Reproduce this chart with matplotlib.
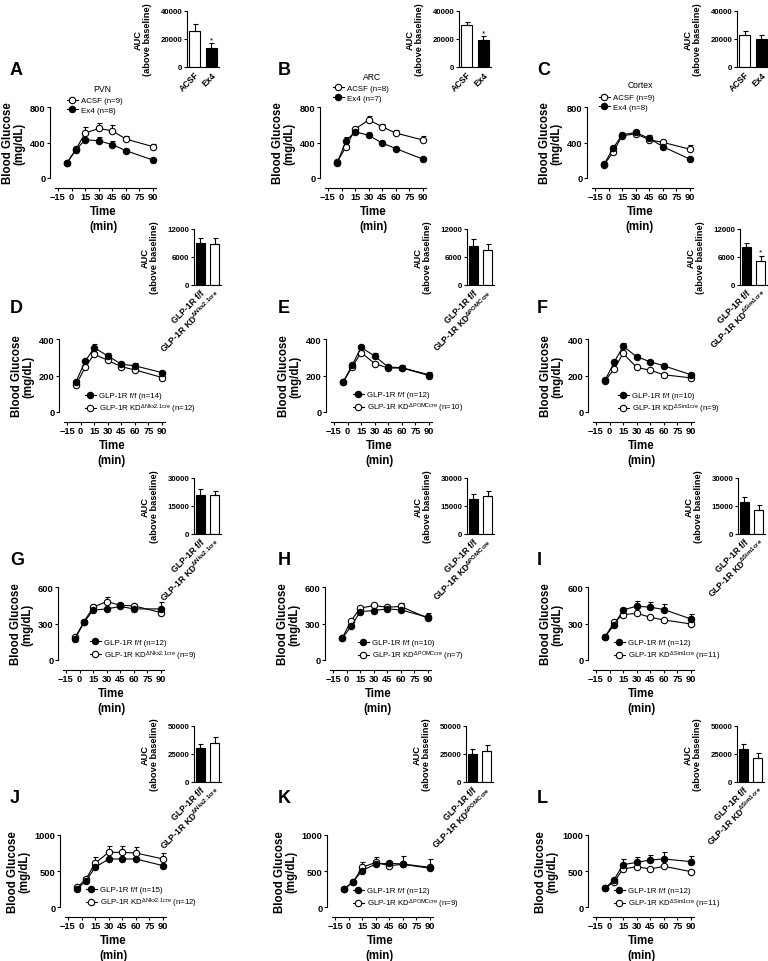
import matplotlib
matplotlib.use('Agg')
import matplotlib.pyplot as plt
from matplotlib.lines import Line2D
import numpy as np

plt.rcParams['font.family'] = ['Liberation Sans', 'DejaVu Sans']
plt.rcParams['font.weight'] = 'bold'
plt.rcParams['axes.labelweight'] = 'bold'
plt.rcParams['mathtext.fontset'] = 'custom'
plt.rcParams['mathtext.rm'] = 'Liberation Sans'
plt.rcParams['mathtext.default'] = 'regular'

# sampling times (min)
time = [-5, 5, 15, 30, 45, 60, 90]

# A-C: ACSF vs Ex4 in PVN / ARC / cortex
pvn_acsf = [171, 327, 506, 558, 532, 439, 353]
pvn_acsf_err = [15, 20, 70, 60, 65, 37, 30]
pvn_ex4 = [171, 320, 431, 420, 376, 309, 201]
pvn_ex4_err = [10, 15, 25, 45, 45, 20, 10]
arc_acsf = [178, 353, 550, 655, 577, 506, 428]
arc_acsf_err = [15, 15, 20, 45, 30, 33, 48]
arc_ex4 = [167, 420, 521, 480, 394, 331, 212]
arc_ex4_err = [10, 45, 15, 12, 12, 12, 10]
ctx_acsf = [149, 290, 476, 498, 431, 402, 324]
ctx_acsf_err = [15, 15, 20, 30, 50, 30, 50]
ctx_ex4 = [153, 335, 487, 513, 446, 353, 212]
ctx_ex4_err = [10, 15, 15, 15, 15, 12, 12]
pvn_auc, pvn_auc_err = [25700, 13300], [4800, 3600]
arc_auc, arc_auc_err = [29800, 19300], [2600, 2800]
ctx_auc, ctx_auc_err = [22900, 19800], [2900, 2900]

# D-F
d_ff, d_ff_err = [167, 277, 352, 308, 262, 253, 216], [8, 10, 20, 13, 10, 13, 10]
d_kd, d_kd_err = [149, 244, 317, 283, 248, 231, 189], [6, 8, 12, 10, 8, 8, 8]
e_ff, e_ff_err = [163, 256, 354, 306, 246, 243, 204], [8, 10, 13, 18, 13, 13, 14]
e_kd, e_kd_err = [163, 246, 326, 265, 241, 241, 200], [6, 8, 10, 10, 8, 8, 8]
f_ff, f_ff_err = [174, 272, 360, 303, 275, 253, 204], [8, 15, 18, 11, 10, 10, 8]
f_kd, f_kd_err = [171, 235, 321, 244, 229, 204, 187], [6, 8, 10, 8, 8, 8, 8]
d_auc, d_auc_err = [9000, 8700], [1000, 1300]
e_auc, e_auc_err = [8400, 7600], [1400, 1200]
f_auc, f_auc_err = [8100, 5200], [900, 1100]

# G-I
g_ff, g_ff_err = [175, 310, 410, 420, 440, 420, 420], [8, 12, 15, 15, 25, 20, 60]
g_kd, g_kd_err = [185, 315, 435, 480, 450, 445, 390], [8, 12, 15, 35, 15, 15, 15]
h_ff, h_ff_err = [177, 276, 398, 406, 420, 412, 351], [8, 12, 12, 15, 33, 55, 36]
h_kd, h_kd_err = [177, 323, 426, 448, 434, 440, 343], [8, 10, 12, 15, 12, 15, 12]
i_ff, i_ff_err = [191, 288, 412, 442, 434, 415, 337], [8, 12, 15, 42, 42, 47, 42]
i_kd, i_kd_err = [191, 310, 373, 384, 351, 329, 296], [8, 10, 12, 12, 12, 12, 12]
g_auc, g_auc_err = [20700, 21000], [3600, 2300]
h_auc, h_auc_err = [18900, 20300], [2700, 2500]
i_auc, i_auc_err = [17100, 13100], [2700, 2200]

# J-L
j_ff, j_ff_err = [250, 366, 551, 667, 667, 667, 574], [12, 15, 20, 20, 20, 20, 20]
j_kd, j_kd_err = [273, 389, 611, 759, 759, 750, 667], [15, 20, 80, 85, 85, 80, 85]
k_ff, k_ff_err = [250, 352, 505, 597, 607, 597, 551], [12, 15, 20, 25, 36, 115, 110]
k_kd, k_kd_err = [250, 343, 551, 620, 574, 593, 537], [12, 15, 70, 70, 20, 20, 20]
l_ff, l_ff_err = [259, 380, 588, 620, 653, 667, 630], [12, 15, 80, 70, 70, 100, 80]
l_kd, l_kd_err = [259, 352, 528, 560, 528, 565, 491], [12, 12, 15, 15, 15, 15, 15]
j_auc, j_auc_err = [30700, 35100], [3600, 5100]
k_auc, k_auc_err = [25300, 27400], [3900, 6000]
l_auc, l_auc_err = [29200, 21700], [5100, 4500]


def kd(cre):
    return r'GLP-1R KD$^{\Delta ' + cre + '}$'


ff = 'GLP-1R f/f'
row1_bars = ['ACSF', 'Ex4']

# each panel: series listed in legend order, with fill flags
panels = [
    dict(letter='A', title='PVN', ymax=800, auc_max=40000,
         series=[(pvn_acsf, pvn_acsf_err, False), (pvn_ex4, pvn_ex4_err, True)],
         names=['ACSF (n=9)', 'Ex4 (n=8)'], bars=row1_bars,
         auc=pvn_auc, auc_err=pvn_auc_err, star=[False, True]),
    dict(letter='B', title='ARC', ymax=800, auc_max=40000,
         series=[(arc_acsf, arc_acsf_err, False), (arc_ex4, arc_ex4_err, True)],
         names=['ACSF (n=8)', 'Ex4 (n=7)'], bars=row1_bars,
         auc=arc_auc, auc_err=arc_auc_err, star=[False, True]),
    dict(letter='C', title='Cortex', ymax=800, auc_max=40000,
         series=[(ctx_acsf, ctx_acsf_err, False), (ctx_ex4, ctx_ex4_err, True)],
         names=['ACSF (n=9)', 'Ex4 (n=8)'], bars=row1_bars,
         auc=ctx_auc, auc_err=ctx_auc_err, star=[False, False]),
    dict(letter='D', ymax=400, auc_max=12000,
         series=[(d_ff, d_ff_err, True), (d_kd, d_kd_err, False)],
         names=[ff + ' (n=14)', kd('Nkx2.1cre') + ' (n=12)'],
         bars=[ff, kd('Nkx2.1cre')], auc=d_auc, auc_err=d_auc_err, star=[False, False]),
    dict(letter='E', ymax=400, auc_max=12000,
         series=[(e_ff, e_ff_err, True), (e_kd, e_kd_err, False)],
         names=[ff + ' (n=12)', kd('POMCcre') + ' (n=10)'],
         bars=[ff, kd('POMCcre')], auc=e_auc, auc_err=e_auc_err, star=[False, False]),
    dict(letter='F', ymax=400, auc_max=12000,
         series=[(f_ff, f_ff_err, True), (f_kd, f_kd_err, False)],
         names=[ff + ' (n=10)', kd('Sim1cre') + ' (n=9)'],
         bars=[ff, kd('Sim1cre')], auc=f_auc, auc_err=f_auc_err, star=[False, True]),
    dict(letter='G', ymax=600, auc_max=30000,
         series=[(g_ff, g_ff_err, True), (g_kd, g_kd_err, False)],
         names=[ff + ' (n=12)', kd('Nkx2.1cre') + ' (n=9)'],
         bars=[ff, kd('Nkx2.1cre')], auc=g_auc, auc_err=g_auc_err, star=[False, False]),
    dict(letter='H', ymax=600, auc_max=30000,
         series=[(h_ff, h_ff_err, True), (h_kd, h_kd_err, False)],
         names=[ff + ' (n=10)', kd('POMCcre') + ' (n=7)'],
         bars=[ff, kd('POMCcre')], auc=h_auc, auc_err=h_auc_err, star=[False, False]),
    dict(letter='I', ymax=600, auc_max=30000,
         series=[(i_ff, i_ff_err, True), (i_kd, i_kd_err, False)],
         names=[ff + ' (n=12)', kd('Sim1cre') + ' (n=11)'],
         bars=[ff, kd('Sim1cre')], auc=i_auc, auc_err=i_auc_err, star=[False, False]),
    dict(letter='J', ymax=1000, auc_max=50000,
         series=[(j_ff, j_ff_err, True), (j_kd, j_kd_err, False)],
         names=[ff + ' (n=15)', kd('Nkx2.1cre') + ' (n=12)'],
         bars=[ff, kd('Nkx2.1cre')], auc=j_auc, auc_err=j_auc_err, star=[False, False]),
    dict(letter='K', ymax=1000, auc_max=50000,
         series=[(k_ff, k_ff_err, True), (k_kd, k_kd_err, False)],
         names=[ff + ' (n=12)', kd('POMCcre') + ' (n=9)'],
         bars=[ff, kd('POMCcre')], auc=k_auc, auc_err=k_auc_err, star=[False, False]),
    dict(letter='L', ymax=1000, auc_max=50000,
         series=[(l_ff, l_ff_err, True), (l_kd, l_kd_err, False)],
         names=[ff + ' (n=12)', kd('Sim1cre') + ' (n=11)'],
         bars=[ff, kd('Sim1cre')], auc=l_auc, auc_err=l_auc_err, star=[False, False]),
]

# layout, in pixels of the 768x962 figure
W, H = 768, 962
line_rows = [(108, 179), (340, 413), (588, 661), (836, 908)]
bar_rows = [(12, 68), (230, 286), (479, 535), (727, 783)]
line_left = [50, 320, 587, 59, 326, 588, 58, 325, 588, 60, 327, 588]
bar_left = [187, 459, 737, 194, 467, 740, 194, 467, 738, 194, 466, 737]
legend_xy = [(72, 106.5), (338, 94), (604, 103.5), (90, 404.5), (358, 403.5), (623, 404.5),
             (95, 651), (363, 651.5), (619, 651.5), (91, 898.5), (358, 899.5), (619, 899.5)]
letter_x = [10, 278, 537]
letter_y = [75, 313, 565, 803]
title_xy = [(102, 89), (372, 77), (640, 85)]

fig = plt.figure(figsize=(W / 100, H / 100), dpi=100)


def rect(left, top, width, bottom):
    return [left / W, 1 - bottom / H, width / W, (bottom - top) / H]


LW = 0.8
for i, p in enumerate(panels):
    row, col = i // 3, i % 3

    # time course
    top, bottom = line_rows[row]
    ax = fig.add_axes(rect(line_left[i], top, 106, bottom))
    px_per_min = 0.905
    x0 = -15 - 8 / px_per_min
    ax.set_xlim(x0, x0 + 106 / px_per_min)
    ax.set_ylim(0, p['ymax'])
    order = p['series'] if row == 0 else p['series'][::-1]
    for y, err, filled in order:
        ax.errorbar(time, y, yerr=[np.zeros(len(err)), err], color='black', lw=LW,
                    marker='o', ms=4.6, mfc='black' if filled else 'white', mec='black',
                    mew=LW, capsize=1.8, elinewidth=LW, capthick=LW, clip_on=False)
    for s in ['top', 'right']:
        ax.spines[s].set_visible(False)
    ax.spines['bottom'].set_position(('outward', 7))
    ax.spines['bottom'].set_bounds(-18, 93)
    for s in ['left', 'bottom']:
        ax.spines[s].set_linewidth(LW)
    ax.set_xticks([-15, 0, 15, 30, 45, 60, 75, 90])
    ax.set_yticks([0, p['ymax'] // 2, p['ymax']])
    ax.tick_params(labelsize=6.7, length=2.2, width=LW, pad=1)
    ax.set_xlabel('Time\n(min)', fontsize=8.3, linespacing=1.3, labelpad=3)
    ax.set_ylabel('Blood Glucose\n(mg/dL)', fontsize=8.3, linespacing=1.0, labelpad=3)

    handles = [Line2D([], [], color='black', lw=LW, marker='o', ms=4.6,
                      mfc='black' if filled else 'white', mec='black', mew=LW)
               for _, _, filled in p['series']]
    lx, ly = legend_xy[i]
    ax.legend(handles, p['names'], loc='center left',
              bbox_to_anchor=((lx - 5.4) / W, 1 - ly / H), bbox_transform=fig.transFigure,
              frameon=False, prop={'size': 5.7, 'weight': 'normal'}, handlelength=1.4,
              handletextpad=0.4, labelspacing=0.3, borderpad=0, borderaxespad=0)

    if 'title' in p:
        tx, ty = title_xy[col]
        fig.text(tx / W, 1 - ty / H, p['title'], ha='center', va='center',
                 fontsize=6.2, fontweight='normal')
    fig.text(letter_x[col] / W, 1 - letter_y[row] / H, p['letter'], fontsize=13,
             fontweight='bold', va='baseline', ha='left')

    # AUC inset
    btop, bbottom = bar_rows[row]
    bw = 32 if row == 0 else 27
    bx = fig.add_axes(rect(bar_left[i], btop, bw, bbottom))
    faces = ['black' if filled else 'white' for _, _, filled in p['series']]
    bx.bar([0, 1], p['auc'], width=0.65, color=faces, edgecolor='black', linewidth=LW,
           yerr=[np.zeros(2), p['auc_err']], capsize=1.8,
           error_kw=dict(elinewidth=LW, capthick=LW, ecolor='black'))
    for k in range(2):
        if p['star'][k]:
            bx.text(k, p['auc'][k] + p['auc_err'][k], '*', ha='center', va='bottom',
                    fontsize=6, fontweight='normal')
    bx.set_xlim(-0.45, 1.45)
    bx.set_ylim(0, p['auc_max'])
    bx.set_yticks([0, p['auc_max'] // 2, p['auc_max']])
    bx.set_xticks([0, 1])
    bx.set_xticklabels(p['bars'], rotation=45, ha='right', rotation_mode='anchor',
                       fontsize=6.2)
    bx.tick_params(axis='y', labelsize=5.7, length=2.2, width=LW, pad=1)
    bx.tick_params(axis='x', length=0, pad=2)
    for s in ['top', 'right']:
        bx.spines[s].set_visible(False)
    for s in ['left', 'bottom']:
        bx.spines[s].set_linewidth(LW)
    bx.set_ylabel('AUC\n(above baseline)', fontsize=6.7, linespacing=1.1, labelpad=6)

fig.savefig('out.png', dpi=100)
